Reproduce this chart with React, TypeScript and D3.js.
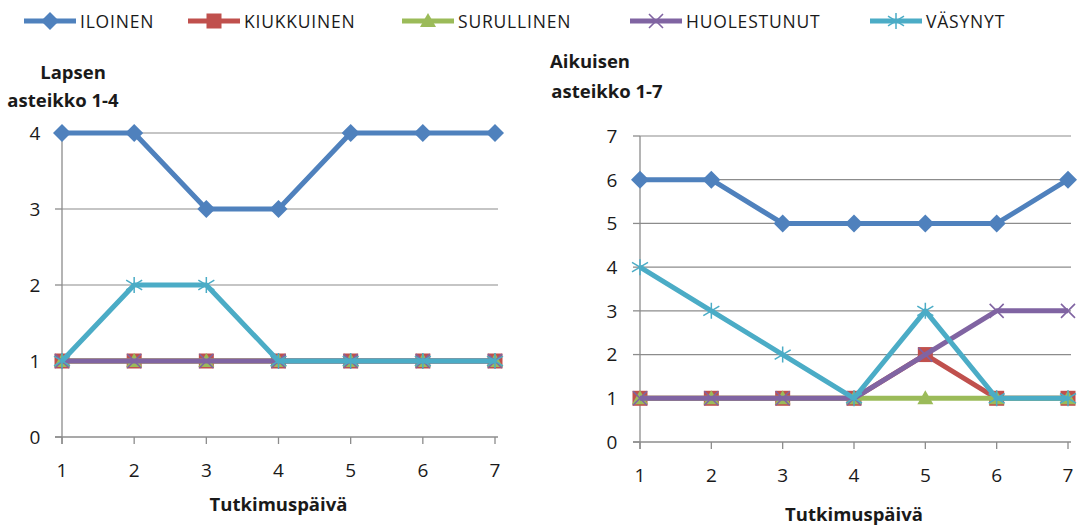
import React from "react";
import * as d3 from "d3";

const days = [1, 2, 3, 4, 5, 6, 7];
const seriesNames = ["ILOINEN", "KIUKKUINEN", "SURULLINEN", "HUOLESTUNUT", "VÄSYNYT"];
const seriesColors = ["#4F81BD", "#C0504D", "#9BBB59", "#8064A2", "#4BACC6"];
const seriesMarkers = ["diamond", "square", "triangle", "x", "star"];

const childIloinen = [4, 4, 3, 3, 4, 4, 4];
const childKiukkuinen = [1, 1, 1, 1, 1, 1, 1];
const childSurullinen = [1, 1, 1, 1, 1, 1, 1];
const childHuolestunut = [1, 1, 1, 1, 1, 1, 1];
const childVasynyt = [1, 2, 2, 1, 1, 1, 1];

const adultIloinen = [6, 6, 5, 5, 5, 5, 6];
const adultKiukkuinen = [1, 1, 1, 1, 2, 1, 1];
const adultSurullinen = [1, 1, 1, 1, 1, 1, 1];
const adultHuolestunut = [1, 1, 1, 1, 2, 3, 3];
const adultVasynyt = [4, 3, 2, 1, 3, 1, 1];

const childTicks = [0, 1, 2, 3, 4];
const adultTicks = [0, 1, 2, 3, 4, 5, 6, 7];

const FONT = "'Open Sans', 'DejaVu Sans', sans-serif";
const TXT = "#1a1a1a";

function Marker({ type, x, y, color }: { type: string; x: number; y: number; color: string }) {
  if (type === "diamond") {
    const r = 9;
    return <path d={`M${x},${y - r}L${x + r},${y}L${x},${y + r}L${x - r},${y}Z`} fill={color} />;
  }
  if (type === "square") {
    const r = 7.5;
    return <rect x={x - r} y={y - r} width={2 * r} height={2 * r} fill={color} />;
  }
  if (type === "triangle") {
    const r = 8;
    return <path d={`M${x},${y - r}L${x + r},${y + r * 0.75}L${x - r},${y + r * 0.75}Z`} fill={color} />;
  }
  if (type === "x") {
    const r = 7;
    return (
      <path d={`M${x - r},${y - r}L${x + r},${y + r}M${x - r},${y + r}L${x + r},${y - r}`} stroke={color} strokeWidth={1.6} />
    );
  }
  const r = 8;
  return (
    <path
      d={`M${x - r},${y - r * 0.6}L${x + r},${y + r * 0.6}M${x - r},${y + r * 0.6}L${x + r},${y - r * 0.6}M${x},${y - r}L${x},${y + r}`}
      stroke={color}
      strokeWidth={1.5}
    />
  );
}

function Panel({
  data, ticks, x0, x1, yTop, yBottom, maxV, labelX, xLabelY,
}: {
  data: number[][]; ticks: number[]; x0: number; x1: number; yTop: number; yBottom: number; maxV: number;
  labelX: number; xLabelY: number;
}) {
  const x = d3.scaleLinear().domain([1, 7]).range([x0, x1]);
  const y = d3.scaleLinear().domain([0, maxV]).range([yBottom, yTop]);
  const line = d3.line<number>().x((_, i) => x(days[i])).y((v) => y(v));
  return (
    <g>
      {ticks.filter((t) => t > 0).map((t) => (
        <line key={"g" + t} x1={x0} x2={x1 + 3} y1={y(t)} y2={y(t)} stroke="#8c8c8c" strokeWidth={1.2} />
      ))}
      <line x1={x0} x2={x0} y1={yTop} y2={yBottom + 7} stroke="#8c8c8c" strokeWidth={1.3} />
      <line x1={x0 - 7} x2={x1 + 3} y1={yBottom} y2={yBottom} stroke="#8c8c8c" strokeWidth={1.3} />
      {ticks.map((t) => (
        <line key={"yt" + t} x1={x0 - 7} x2={x0} y1={y(t)} y2={y(t)} stroke="#8c8c8c" strokeWidth={1.3} />
      ))}
      {days.map((d) => (
        <line key={"xt" + d} x1={x(d)} x2={x(d)} y1={yBottom} y2={yBottom + 7} stroke="#8c8c8c" strokeWidth={1.3} />
      ))}
      {ticks.map((t) => (
        <text key={"yl" + t} x={labelX} y={y(t)} dy="0.36em" textAnchor="middle" fontSize={19} fill={TXT} fontFamily={FONT}>
          {t}
        </text>
      ))}
      {days.map((d) => (
        <text key={"xl" + d} x={x(d)} y={yBottom + 40} textAnchor="middle" fontSize={19} fill={TXT} fontFamily={FONT}>
          {d}
        </text>
      ))}
      <text x={(x0 + x1) / 2} y={xLabelY} textAnchor="middle" fontSize={18.5} fontWeight="bold" fill={TXT} fontFamily={FONT}>
        Tutkimuspäivä
      </text>
      {data.map((vals, si) => (
        <g key={"s" + si}>
          <path d={line(vals) || ""} fill="none" stroke={seriesColors[si]} strokeWidth={5} strokeLinejoin="round" />
          {vals.map((v, i) => (
            <Marker key={i} type={seriesMarkers[si]} x={x(days[i])} y={y(v)} color={seriesColors[si]} />
          ))}
        </g>
      ))}
    </g>
  );
}

export default function App() {
  const legendX = [24, 188, 402, 630, 870];
  return (
    <svg width={1081} height={527} style={{ position: "absolute", left: 0, top: 0, background: "#fff" }}>
      <rect width={1081} height={527} fill="#fff" />
      {seriesNames.map((n, i) => (
        <g key={n}>
          <line x1={legendX[i]} x2={legendX[i] + 52} y1={21} y2={21} stroke={seriesColors[i]} strokeWidth={5} />
          <Marker type={seriesMarkers[i]} x={legendX[i] + 26} y={21} color={seriesColors[i]} />
          <text x={legendX[i] + 56} y={22} dy="0.35em" fontSize={17.5} letterSpacing={0.8} fill={TXT} fontFamily={FONT}>
            {n}
          </text>
        </g>
      ))}
      <text x={73} y={79} textAnchor="middle" fontSize={18.5} fontWeight="bold" fill={TXT} fontFamily={FONT}>Lapsen</text>
      <text x={63} y={107} textAnchor="middle" fontSize={18.5} fontWeight="bold" fill={TXT} fontFamily={FONT}>asteikko 1-4</text>
      <text x={590} y={68} textAnchor="middle" fontSize={18.5} fontWeight="bold" fill={TXT} fontFamily={FONT}>Aikuisen</text>
      <text x={607} y={98} textAnchor="middle" fontSize={18.5} fontWeight="bold" fill={TXT} fontFamily={FONT}>asteikko 1-7</text>
      <Panel
        data={[childIloinen, childKiukkuinen, childSurullinen, childHuolestunut, childVasynyt]}
        ticks={childTicks}
        x0={62} x1={495} yTop={133} yBottom={437} maxV={4}
        labelX={35} xLabelY={511}
      />
      <Panel
        data={[adultIloinen, adultKiukkuinen, adultSurullinen, adultHuolestunut, adultVasynyt]}
        ticks={adultTicks}
        x0={640} x1={1068} yTop={136} yBottom={442} maxV={7}
        labelX={612} xLabelY={521}
      />
    </svg>
  );
}
